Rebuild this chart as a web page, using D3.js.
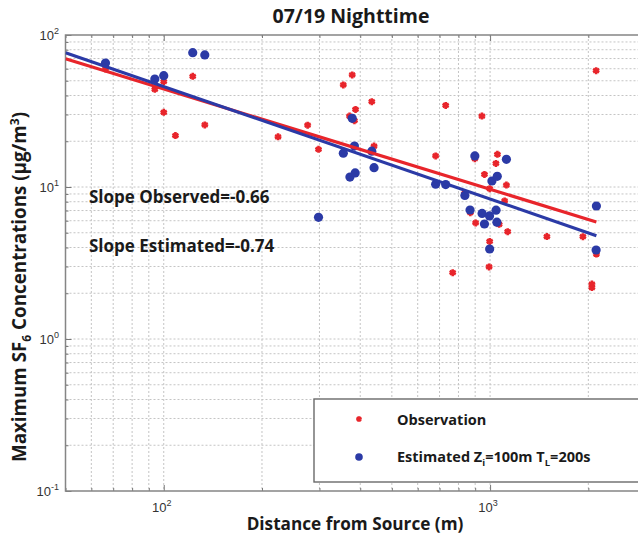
<!DOCTYPE html>
<html><head><meta charset="utf-8">
<script src="https://cdn.jsdelivr.net/npm/d3@7"></script>
<style>
html,body{margin:0;padding:0;background:#fff;}
svg{display:block;font-family:"Open Sans",Lato,sans-serif;}
</style></head><body>
<svg id="chart" width="638" height="540"></svg>
<script>
// Observed maximum SF6 concentrations (µg/m3) against distance from source (m)
const obsDist = [66.3, 93.9, 100, 100, 108.6, 122.7, 133.6, 224, 276, 298,
  355, 378, 434, 387, 371, 384, 441, 731, 944, 681,
  898, 1053, 1042, 961, 1122, 997, 836, 1108, 870, 903,
  1066, 1132, 997, 993, 768, 1493, 1925, 2117, 2051, 2051, 2113];
const obsConc = [59.8, 43.9, 49.3, 31.0, 21.8, 53.5, 25.6, 21.4, 25.5, 17.7,
  46.9, 54.6, 36.4, 32.4, 29.3, 27.3, 18.6, 34.4, 29.3, 16.0,
  15.35, 16.4, 14.3, 12.1, 10.3, 9.75, 9.09, 8.09, 6.78, 5.80,
  5.68, 5.08, 4.38, 2.98, 2.73, 4.72, 4.71, 3.62, 2.30, 2.18, 58.2];

// Estimated concentrations (Zi=100m, TL=200s)
const estDist = [66.3, 93.9, 100, 122.7, 133.6, 298, 378, 384, 355, 434,
  441, 372, 386, 681, 731, 837, 898, 1122, 1013, 1052,
  868, 945, 996, 1043, 961, 1049, 997, 2117, 2113];
const estConc = [65.4, 51.3, 54.0, 76.5, 73.9, 6.32, 28.3, 18.6, 16.7, 17.2,
  13.4, 11.63, 12.37, 10.43, 10.38, 8.79, 16.0, 15.2, 10.95, 11.76,
  7.06, 6.70, 6.45, 7.04, 5.71, 5.87, 3.91, 7.50, 3.85];

// Power-law fits: log10(C) = intercept + slope * log10(x)
const fitNames = ["Observed", "Estimated"];
const fitSlopes = [-0.66, -0.74];
const fitIntercepts = [2.965, 3.141];
const fitRange = [50, 2117];

const xMajorTicks = [100, 1000];
const yMajorTicks = [0.1, 1, 10, 100];
const xDomain = [50, 3000];
const yDomain = [0.1, 100];

const RED = "#e8252b", BLUE = "#2b3aa6";

const svg = d3.select("#chart");
const L = 65.5, R = 645.8, T = 35, B = 491;
const x = d3.scaleLog().domain(xDomain).range([L, R]);
const y = d3.scaleLog().domain(yDomain).range([B, T]);

function decadeTicks(dom) {
  const out = [];
  for (let e = Math.floor(Math.log10(dom[0])); e <= Math.ceil(Math.log10(dom[1])); e++) {
    for (let k = 1; k <= 9; k++) {
      const v = k * Math.pow(10, e);
      if (v >= dom[0] * 0.999 && v <= dom[1] * 1.001) out.push(+v.toPrecision(6));
    }
  }
  return out;
}
const xAll = decadeTicks(xDomain);
const yAll = decadeTicks(yDomain);

svg.append("defs").append("clipPath").attr("id", "plotclip")
  .append("rect").attr("x", L).attr("y", T).attr("width", R - L).attr("height", B - T);

// dotted grid
const grid = svg.append("g").attr("stroke", "#c4c4c4").attr("stroke-width", 1)
  .attr("stroke-dasharray", "2,2");
grid.selectAll("line.gx").data(xAll.filter(v => v > xDomain[0] && v < xDomain[1]))
  .join("line").attr("x1", d => x(d)).attr("x2", d => x(d)).attr("y1", T).attr("y2", B);
grid.selectAll("line.gy").data(yAll.filter(v => v > yDomain[0] && v < yDomain[1]))
  .join("line").attr("y1", d => y(d)).attr("y2", d => y(d)).attr("x1", L).attr("x2", R);

// inward tick marks on all four sides via d3 axes
function styleAxis(g) {
  g.select(".domain").remove();
  g.selectAll(".tick line").attr("stroke", "#777").attr("stroke-width", 1);
  g.selectAll(".tick text").remove();
}
function addAxes(gen, tr, vals, size) {
  svg.append("g").attr("transform", tr)
    .call(gen.tickValues(vals).tickSize(size).tickFormat(""))
    .call(styleAxis);
}
const xMinor = xAll.filter(v => !xMajorTicks.includes(v));
const yMinor = yAll.filter(v => !yMajorTicks.includes(v));
addAxes(d3.axisBottom(x), `translate(0,${B})`, xMajorTicks, -6);
addAxes(d3.axisBottom(x), `translate(0,${B})`, xMinor, -3);
addAxes(d3.axisTop(x), `translate(0,${T})`, xMajorTicks, -6);
addAxes(d3.axisTop(x), `translate(0,${T})`, xMinor, -3);
addAxes(d3.axisLeft(y), `translate(${L},0)`, yMajorTicks, -6);
addAxes(d3.axisLeft(y), `translate(${L},0)`, yMinor, -3);

// frame
svg.append("rect").attr("x", L).attr("y", T).attr("width", R - L).attr("height", B - T)
  .attr("fill", "none").attr("stroke", "#858585").attr("stroke-width", 1.5);

// tick labels 10^n
function powLabel(sel, v) {
  const e = Math.round(Math.log10(v));
  sel.append("tspan").text("10");
  sel.append("tspan").attr("dy", -6).attr("font-size", 9).text(e);
}
svg.append("g").selectAll("text").data(xMajorTicks).join("text")
  .attr("x", d => x(d) - 2).attr("y", 512).attr("text-anchor", "middle")
  .attr("font-family", "Liberation Sans, Arial, sans-serif").attr("font-size", 13).attr("fill", "#333")
  .each(function (d) { powLabel(d3.select(this), d); });
svg.append("g").selectAll("text").data(yMajorTicks).join("text")
  .attr("x", 59).attr("y", d => y(d) + 5).attr("text-anchor", "end")
  .attr("font-family", "Liberation Sans, Arial, sans-serif").attr("font-size", 13).attr("fill", "#333")
  .each(function (d) { powLabel(d3.select(this), d); });

const plot = svg.append("g").attr("clip-path", "url(#plotclip)");

// observation markers (asterisks)
const star = d3.symbol().type(d3.symbolAsterisk).size(34);
plot.append("g").selectAll("path").data(obsDist.map((d, i) => [d, obsConc[i]])).join("path")
  .attr("transform", d => `translate(${x(d[0])},${y(d[1])})`)
  .attr("d", star).attr("fill", "none").attr("stroke", RED).attr("stroke-width", 2.6);

// estimated markers (dots)
plot.append("g").selectAll("circle").data(estDist.map((d, i) => [d, estConc[i]])).join("circle")
  .attr("cx", d => x(d[0])).attr("cy", d => y(d[1])).attr("r", 4.6).attr("fill", BLUE);

// fit lines
const fitColors = [RED, BLUE];
const line = d3.line().x(d => x(d[0])).y(d => y(d[1]));
plot.append("g").selectAll("path").data(fitSlopes.map((s, i) =>
    fitRange.map(v => [v, Math.pow(10, fitIntercepts[i] + s * Math.log10(v))])))
  .join("path").attr("d", line).attr("fill", "none")
  .attr("stroke", (d, i) => fitColors[i]).attr("stroke-width", 3.2);

// slope annotations
svg.append("g").selectAll("text").data(fitNames).join("text")
  .attr("x", 89).attr("y", (d, i) => 203 + i * 48.5)
  .attr("font-size", 17).attr("font-weight", "bold").attr("fill", "#1a1a1a")
  .text((d, i) => `Slope ${d}=${fitSlopes[i].toFixed(2)}`);

// legend
const lg = svg.append("g");
lg.append("rect").attr("x", 314).attr("y", 399).attr("width", 400).attr("height", 83)
  .attr("fill", "#fff").attr("stroke", "#6a6a6a").attr("stroke-width", 1.4);
lg.append("path").attr("transform", "translate(359,419)").attr("d", d3.symbol().type(d3.symbolAsterisk).size(22))
  .attr("fill", "none").attr("stroke", RED).attr("stroke-width", 2.4);
lg.append("circle").attr("cx", 359).attr("cy", 457).attr("r", 3.8).attr("fill", BLUE);
lg.append("text").attr("x", 397).attr("y", 425).attr("font-size", 14.5).attr("font-weight", "bold")
  .attr("fill", "#1a1a1a").text("Observation");
const t2 = lg.append("text").attr("x", 397).attr("y", 462).attr("font-size", 14.5).attr("font-weight", "bold")
  .attr("fill", "#1a1a1a");
t2.append("tspan").text("Estimated Z");
t2.append("tspan").attr("dy", 4).attr("font-size", 9.5).text("i");
t2.append("tspan").attr("dy", -4).text("=100m T");
t2.append("tspan").attr("dy", 4).attr("font-size", 9.5).text("L");
t2.append("tspan").attr("dy", -4).text("=200s");

// title and axis titles
svg.append("text").attr("x", 351).attr("y", 23).attr("text-anchor", "middle")
  .attr("font-size", 19.5).attr("font-weight", "bold").attr("fill", "#1a1a1a").text("07/19 Nighttime");
svg.append("text").attr("x", 355).attr("y", 530).attr("text-anchor", "middle")
  .attr("font-size", 17.2).attr("font-weight", "bold").attr("fill", "#1a1a1a").text("Distance from Source (m)");
const yl = svg.append("text").attr("transform", "translate(26,287) rotate(-90)").attr("text-anchor", "middle")
  .attr("font-size", 18.8).attr("font-weight", "bold").attr("fill", "#1a1a1a");
yl.append("tspan").text("Maximum SF");
yl.append("tspan").attr("dy", 5).attr("font-size", 12).text("6");
yl.append("tspan").attr("dy", -5).text(" Concentrations (\u03bcg/m");
yl.append("tspan").attr("dy", -7).attr("font-size", 12).text("3");
yl.append("tspan").attr("dy", 7).text(")");
</script>
</body></html>
